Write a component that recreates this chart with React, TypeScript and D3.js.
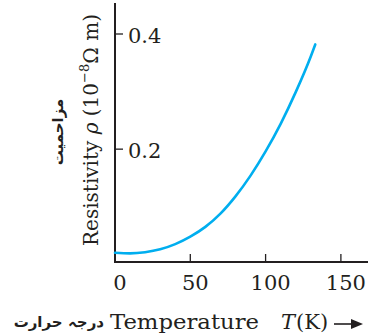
import * as d3 from 'd3';

// Resistivity vs temperature
const TEMPS = [0, 10, 20, 30, 40, 50, 60, 70, 80, 90, 100, 110, 120, 130, 133];
const RHO = [0.020, 0.019, 0.021, 0.026, 0.035, 0.048, 0.065, 0.088, 0.118, 0.154, 0.196, 0.244, 0.299, 0.361, 0.382];
const X_TICKS = [0, 50, 100, 150];
const Y_TICKS = [0.2, 0.4];

const W = 374;
const H = 336;
const SERIF = '"DejaVu Serif", serif';
const URDU = '"DejaVu Sans", sans-serif';
const INK = '#231f20';
const CURVE = '#00aeef';

export default function App() {
  const margin = { top: 3, right: 6, bottom: 74, left: 115 };
  const innerW = W - margin.left - margin.right;
  const innerH = H - margin.top - margin.bottom;

  const x = d3.scaleLinear().domain([0, 168]).range([0, innerW]);
  const y = d3.scaleLinear().domain([0.004, 0.4]).range([innerH, 31]);

  const points = TEMPS.map((t, i) => ({ t, r: RHO[i] }));
  const line = d3.line<{ t: number; r: number }>()
    .x(d => x(d.t))
    .y(d => y(d.r))
    .curve(d3.curveMonotoneX);

  return (
    <svg width={W} height={H} style={{ position: 'absolute', left: 0, top: 0 }}>
      <g transform={`translate(${margin.left},${margin.top})`}>
        {/* axes */}
        <line x1={0} x2={0} y1={0} y2={innerH} stroke={INK} strokeWidth={2} />
        <line x1={-1} x2={innerW} y1={innerH} y2={innerH} stroke={INK} strokeWidth={2} />

        {/* x ticks */}
        {X_TICKS.map(t => (
          <g key={t}>
            {t > 0 && (
              <line x1={x(t)} x2={x(t)} y1={innerH} y2={innerH - 8} stroke={INK} strokeWidth={1.3} />
            )}
            <text
              x={x(t) + 5} y={innerH + 28}
              textAnchor="middle" fontSize={21} fontFamily={SERIF} fill={INK}
            >
              {t}
            </text>
          </g>
        ))}

        {/* y ticks */}
        {Y_TICKS.map(v => (
          <g key={v}>
            <line x1={0} x2={8} y1={y(v)} y2={y(v)} stroke={INK} strokeWidth={1.3} />
            <text
              x={13} y={y(v) + 2}
              dominantBaseline="central" fontSize={21} fontFamily={SERIF} fill={INK}
            >
              {v.toFixed(1)}
            </text>
          </g>
        ))}

        {/* curve */}
        <path d={line(points) ?? ''} fill="none" stroke={CURVE} strokeWidth={2.6} strokeLinecap="round" />
      </g>

      {/* y axis label */}
      <text
        transform="translate(98,130) rotate(-90)"
        textAnchor="middle" fontSize={20} fontFamily={SERIF} fill={INK}
      >
        Resistivity <tspan fontStyle="italic">ρ</tspan> (10<tspan fontSize={13} dy={-9}>−8</tspan>
        <tspan dy={9}>Ω m)</tspan>
      </text>
      <text
        transform="translate(63,132) rotate(-90)"
        textAnchor="middle" fontSize={15} fontWeight="bold" fontFamily={URDU} fill={INK}
      >
        مزاحمیت
      </text>

      {/* x axis label */}
      <text
        x={104} y={327}
        textAnchor="end" fontSize={15} fontWeight="bold" fontFamily={URDU} fill={INK}
      >
        درجہ حرارت
      </text>
      <text x={110} y={329} fontSize={21} fontFamily={SERIF} fill={INK} textLength={149} lengthAdjust="spacingAndGlyphs">
        Temperature
      </text>
      <text x={281} y={329} fontSize={21} fontFamily={SERIF} fill={INK} fontStyle="italic">
        T
      </text>
      <text x={296} y={329} fontSize={21} fontFamily={SERIF} fill={INK}>
        (K)
      </text>
      <line x1={334} x2={353} y1={324} y2={324} stroke={INK} strokeWidth={1.6} />
      <path d="M351,319 L363,324 L351,329 Z" fill={INK} />
    </svg>
  );
}
